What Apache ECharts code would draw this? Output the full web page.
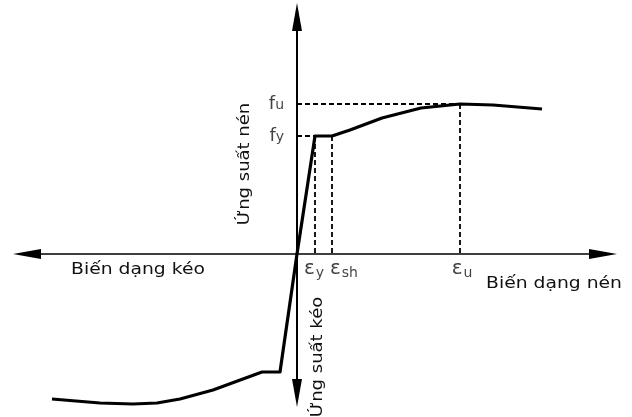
<!DOCTYPE html>
<html>
<head>
<meta charset="utf-8">
<script src="https://cdn.jsdelivr.net/npm/echarts@6/dist/echarts.min.js"></script>
<style>
  html, body { margin: 0; padding: 0; background: #ffffff; }
  #chart { width: 632px; height: 417px; }
</style>
</head>
<body>
<div id="chart"></div>
<script>
// Stress–strain diagram for steel: compression plotted positive, tension negative.
const compStrain = [0, 18, 35, 53, 85, 124, 163, 196, 245];
const compStress = [0, 118, 118, 124, 136, 146, 150, 149, 145];
const tensStrain = [0, -17, -35, -84, -117, -140, -164, -197, -245];
const tensStress = [0, -118, -118, -136, -145, -149, -150, -149, -145];

// Characteristic stresses f_y, f_u and strains ε_y, ε_sh, ε_u
const stressSubs = ['y', 'u'];
const stressValues = [118, 150];
const strainSubs = ['y', 'sh', 'u'];
const strainValues = [18, 35, 163];

const axisTitles = ['Biến dạng kéo', 'Biến dạng nén', 'Ứng suất nén', 'Ứng suất kéo'];

const FONT = '"DejaVu Sans", sans-serif';
const INK = '#000000';
const TEXT = '#111111';

const zip = (xs, ys) => xs.map((x, i) => [x, ys[i]]);

// dashed guides from the axes to the yield / ultimate points
const fy = stressValues[0], fu = stressValues[1];
const ey = strainValues[0], esh = strainValues[1], eu = strainValues[2];
const guides = [
  [[0, fy], [ey, fy]],
  [[ey, fy], [ey, 0]],
  [[esh, fy], [esh, 0]],
  [[0, fu], [eu, fu]],
  [[eu, fu], [eu, 0]]
];

// horizontal nudges (px) for the strain tick labels
const strainLabelShift = [-1, 12, 2];

const richStress = {
  m: { fontFamily: FONT, fontSize: 18, color: TEXT },
  s: { fontFamily: FONT, fontSize: 14, color: TEXT, padding: [3, 0, 0, 0] }
};
const richStrain = {
  m: { fontFamily: FONT, fontSize: 20, color: TEXT },
  s: { fontFamily: FONT, fontSize: 14, color: TEXT, padding: [8, 0, 0, 1] }
};

const chart = echarts.init(document.getElementById('chart'), null, { renderer: 'canvas' });

const axisCommon = {
  type: 'value',
  splitLine: { show: false },
  axisTick: { show: false },
  axisLabel: { show: false }
};

const titleStyle = (text) => ({
  text: text, font: '15px ' + FONT, fill: TEXT, align: 'center', verticalAlign: 'middle'
});

chart.setOption({
  animation: false,
  backgroundColor: '#ffffff',
  grid: { left: 27, right: 29, top: 17, bottom: 24, containLabel: false },
  xAxis: Object.assign({}, axisCommon, {
    min: -270, max: 306,
    axisLine: {
      show: true, onZero: true,
      symbol: ['triangle', 'triangle'], symbolSize: [10, 28],
      lineStyle: { color: INK, width: 1.5 }
    }
  }),
  yAxis: Object.assign({}, axisCommon, {
    min: -139, max: 237,
    axisLine: {
      show: true, onZero: true,
      symbol: ['triangle', 'triangle'], symbolSize: [10, 28],
      lineStyle: { color: INK, width: 2 }
    }
  }),
  series: [
    {
      name: 'guides',
      type: 'line',
      data: [],
      silent: true,
      markLine: {
        silent: true,
        symbol: ['none', 'none'],
        label: { show: false },
        lineStyle: { color: INK, width: 1.8, type: [5, 3] },
        data: guides.map(g => [{ coord: g[0] }, { coord: g[1] }])
      }
    },
    {
      name: 'compression',
      type: 'line',
      data: zip(compStrain, compStress),
      showSymbol: false,
      clip: false,
      lineStyle: { color: INK, width: 3.2, join: 'round' },
      z: 3
    },
    {
      name: 'tension',
      type: 'line',
      data: zip(tensStrain, tensStress),
      showSymbol: false,
      clip: false,
      lineStyle: { color: INK, width: 3.2, join: 'round' },
      z: 3
    },
    {
      name: 'stress labels',
      type: 'scatter',
      symbolSize: 0,
      silent: true,
      data: stressValues.map((v, i) => ({
        value: [0, v],
        label: {
          show: true, position: 'left', distance: 13,
          fontFamily: FONT, fontSize: 18, color: TEXT,
          formatter: '{m|f}{s|' + stressSubs[i] + '}',
          rich: richStress
        }
      }))
    },
    {
      name: 'strain labels',
      type: 'scatter',
      symbolSize: 0,
      silent: true,
      data: strainValues.map((v, i) => ({
        value: [v, 0],
        label: {
          show: true, position: 'bottom', distance: 4,
          fontFamily: FONT, fontSize: 20, color: TEXT,
          offset: [strainLabelShift[i], 0],
          formatter: '{m|ε}{s|' + strainSubs[i] + '}',
          rich: richStrain
        }
      }))
    }
  ],
  graphic: [
    { type: 'text', x: 138, y: 270, scaleX: 1.25, style: titleStyle(axisTitles[0]) },
    { type: 'text', x: 554, y: 284, scaleX: 1.25, style: titleStyle(axisTitles[1]) },
    { type: 'text', x: 245, y: 164, scaleX: 1.2, rotation: Math.PI / 2, style: titleStyle(axisTitles[2]) },
    { type: 'text', x: 318, y: 357, scaleX: 1.2, rotation: Math.PI / 2, style: titleStyle(axisTitles[3]) }
  ]
});
</script>
</body>
</html>
